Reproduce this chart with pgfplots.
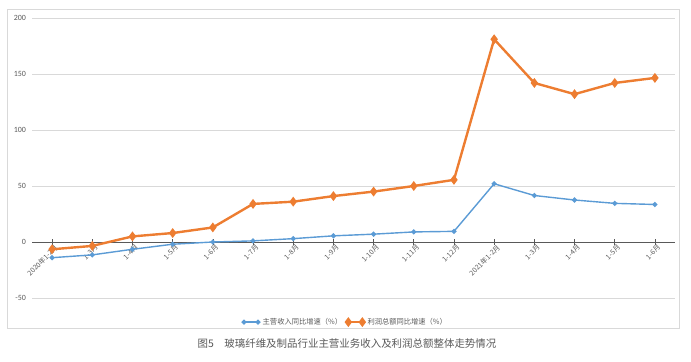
\documentclass[border=0pt]{standalone}
\usepackage{fontspec}
\setmainfont{Carlito}
\newfontfamily\cjk{Noto Sans CJK SC}
\usepackage{pgfplots}
\pgfplotsset{compat=1.18}
\definecolor{cblue}{RGB}{91,155,213}
\definecolor{corange}{RGB}{237,125,49}
\definecolor{tgray}{RGB}{89,89,89}
\definecolor{ggray}{RGB}{217,217,217}
\begin{document}
\begin{tikzpicture}
\path[use as bounding box] (0,0) rectangle (691bp,362bp);
\draw[ggray, line width=0.6bp] (7bp,34bp) rectangle (679bp,353bp);
\begin{axis}[
  at={(32bp,64bp)}, anchor=south west,
  width=643bp, height=280bp, scale only axis,
  xmin=-0.5, xmax=15.5, ymin=-50, ymax=200,
  ytick={-50,0,50,100,150,200},
  axis x line=middle, axis y line*=left,
  y axis line style={draw=none},
  x axis line style={tgray, line width=0.8bp, -},
  xtick={0,...,15},
  xticklabels={2020年1-2月,1-3月,1-4月,1-5月,1-6月,1-7月,1-8月,1-9月,1-10月,1-11月,1-12月,2021年1-2月,1-3月,1-4月,1-5月,1-6月},
  xticklabel style={rotate=45, anchor=north east, font=\cjk\fontsize{7}{8}\selectfont, text=tgray, inner sep=1bp, xshift=3bp},
  xtick style={tgray, line width=0.6bp},
  major tick length=5bp, tick align=center,
  ymajorgrids, grid style={ggray, line width=0.8bp},
  yticklabel style={font=\fontsize{8}{9}\selectfont, text=tgray},
  ytick style={draw=none},
  /pgf/number format/assume math mode=true,
  clip=false,
  legend columns=2,
  legend style={at={(0.487,-0.086)}, anchor=center, draw=none, fill=none,
    font=\cjk\fontsize{7.3}{8}\selectfont, text=tgray,
    /tikz/every even column/.append style={column sep=1bp}},
  legend image code/.code={\draw[#1] (0bp,0bp) -- (18bp,0bp); \draw[#1, only marks] plot coordinates {(2bp,0bp) (16bp,0bp)};},
]
\addplot[cblue, line width=1.4bp, mark=*, mark size=1.8bp] coordinates {
(0,-14) (1,-11.5) (2,-6.5) (3,-2) (4,0) (5,1) (6,3) (7,5.5) (8,7) (9,9) (10,9.5)
(11,52) (12,41.5) (13,37.5) (14,34.5) (15,33.5)};
\addlegendentry{主营收入同比增速（\%）}
\addplot[corange, line width=2.4bp, mark=diamond*, mark size=3bp] coordinates {
(0,-6.5) (1,-3.5) (2,5) (3,8) (4,13) (5,34) (6,36) (7,41) (8,45) (9,50) (10,55.5)
(11,181) (12,142) (13,132) (14,142) (15,146.5)};
\addlegendentry{利润总额同比增速（\%）}
\end{axis}
\node[text=tgray, font=\cjk\fontsize{10.5}{12}\selectfont] at (347bp,18bp) {图5\quad 玻璃纤维及制品行业主营业务收入及利润总额整体走势情况};
\end{tikzpicture}
\end{document}
